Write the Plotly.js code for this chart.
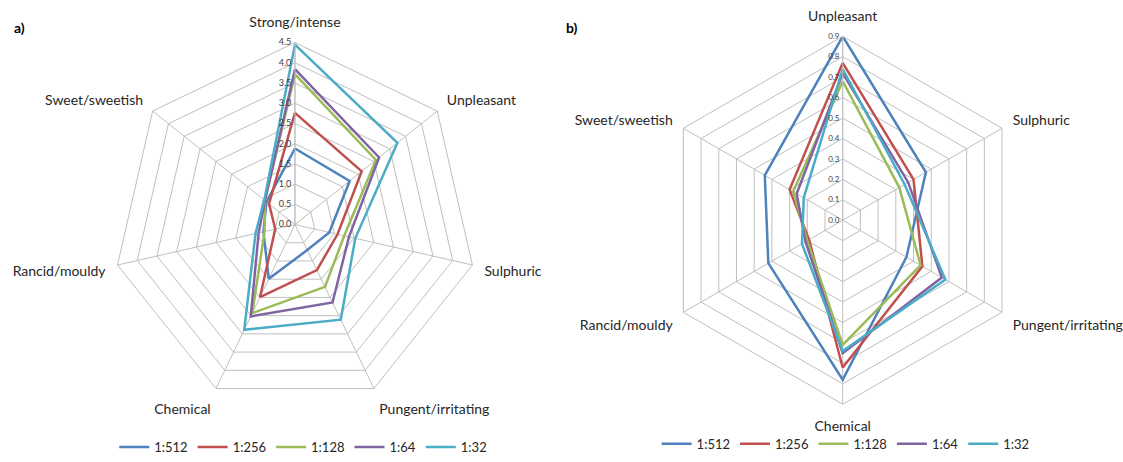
<!DOCTYPE html>
<html>
<head>
<meta charset="utf-8">
<script src="https://cdn.plot.ly/plotly-3.0.1.min.js"></script>
<style>
html,body{margin:0;padding:0;background:#fff;}
#chart{width:1123px;height:462px;}
</style>
</head>
<body>
<div id="chart"></div>
<script>
// ---- Data ----
var seriesNames = ['1:512', '1:256', '1:128', '1:64', '1:32'];
var seriesColors = ['#4F81BD', '#C0504D', '#9BBB59', '#8064A2', '#4BACC6'];

// Panel a)
var catsA = ['Strong/intense', 'Unpleasant', 'Sulphuric', 'Pungent/irritating', 'Chemical', 'Rancid/mouldy', 'Sweet/sweetish'];
var a_512 = [1.88, 1.73, 0.87, 0.70, 1.49, 0.80, 0.90];
var a_256 = [2.76, 2.11, 1.08, 1.25, 1.99, 0.50, 0.82];
var a_128 = [3.72, 2.56, 1.25, 1.71, 2.43, 0.77, 0.95];
var a_64  = [3.84, 2.66, 1.37, 2.14, 2.52, 0.92, 0.95];
var a_32  = [4.45, 3.24, 1.53, 2.61, 2.89, 1.00, 0.97];
var ticksA = [0, 0.5, 1, 1.5, 2, 2.5, 3, 3.5, 4, 4.5];

// Panel b)
var catsB = ['Unpleasant', 'Sulphuric', 'Pungent/irritating', 'Chemical', 'Rancid/mouldy', 'Sweet/sweetish'];
var b_512 = [0.90, 0.47, 0.36, 0.78, 0.42, 0.44];
var b_256 = [0.77, 0.40, 0.45, 0.72, 0.19, 0.30];
var b_128 = [0.68, 0.32, 0.44, 0.61, 0.20, 0.28];
var b_64  = [0.72, 0.37, 0.56, 0.65, 0.21, 0.26];
var b_32  = [0.74, 0.35, 0.58, 0.64, 0.23, 0.22];
var ticksB = [0, 0.1, 0.2, 0.3, 0.4, 0.5, 0.6, 0.7, 0.8, 0.9];

var seriesA = [a_512, a_256, a_128, a_64, a_32];
var seriesB = [b_512, b_256, b_128, b_64, b_32];

function closed(arr) { return arr.concat([arr[0]]); }

var traces = [];
seriesA.forEach(function (vals, i) {
  traces.push({
    type: 'scatterpolar', mode: 'lines', subplot: 'polar',
    r: closed(vals), theta: closed(catsA), name: seriesNames[i],
    line: {color: seriesColors[i], width: 2.5}, legend: 'legend',
    hoverinfo: 'skip'
  });
});
seriesB.forEach(function (vals, i) {
  traces.push({
    type: 'scatterpolar', mode: 'lines', subplot: 'polar2',
    r: closed(vals), theta: closed(catsB), name: seriesNames[i],
    line: {color: seriesColors[i], width: 2.5}, legend: 'legend2',
    hoverinfo: 'skip'
  });
});

var gridC = '#BFBFBF';
var fontFam = 'Lato, "Liberation Sans", sans-serif';

function polarCfg(domX, domY, range, ticks, cats, tickSize) {
  return {
    domain: {x: domX, y: domY},
    gridshape: 'linear',
    bgcolor: 'rgba(0,0,0,0)',
    radialaxis: {
      range: range, tickvals: ticks, tickformat: '.1f', angle: 90, tickangle: 90,
      side: 'counterclockwise', showline: true, linecolor: gridC, linewidth: 1,
      gridcolor: gridC, gridwidth: 1, ticks: '', tickfont: {size: tickSize, color: '#404040', family: fontFam}
    },
    angularaxis: {
      type: 'category', categoryarray: cats, direction: 'clockwise', rotation: 90,
      showline: true, linecolor: gridC, linewidth: 1, gridcolor: gridC, gridwidth: 1,
      ticks: 'outside', ticklen: 9, tickcolor: 'rgba(0,0,0,0)',
      tickfont: {size: 14, color: '#262626', family: fontFam}
    }
  };
}

var legendBase = {
  orientation: 'h', xanchor: 'center', yanchor: 'middle',
  font: {size: 13, color: '#262626', family: fontFam}, bgcolor: 'rgba(0,0,0,0)',
  itemwidth: 30, tracegroupgap: 0
};

var layout = {
  width: 1123, height: 462,
  margin: {l: 0, r: 0, t: 0, b: 0},
  paper_bgcolor: '#fff',
  font: {family: fontFam, color: '#262626'},
  polar: polarCfg([0.0988, 0.4265], [0.1104, 0.9069], [0, 4.5], ticksA, catsA, 9),
  polar2: polarCfg([0.5848, 0.9160], [0.1154, 0.9206], [0, 0.9], ticksB, catsB, 8),
  legend: Object.assign({}, legendBase, {x: 0.270, y: 0.022}),
  legend2: Object.assign({}, legendBase, {x: 0.753, y: 0.029}),
  annotations: [
    {text: '<b>a)</b>', x: 0.011, y: 0.94, xref: 'paper', yref: 'paper', xanchor: 'left', yanchor: 'middle', showarrow: false, font: {size: 14, color: '#000'}},
    {text: '<b>b)</b>', x: 0.502, y: 0.94, xref: 'paper', yref: 'paper', xanchor: 'left', yanchor: 'middle', showarrow: false, font: {size: 14, color: '#000'}}
  ],
  showlegend: true
};

Plotly.newPlot('chart', traces, layout, {displayModeBar: false, staticPlot: true});
</script>
</body>
</html>
